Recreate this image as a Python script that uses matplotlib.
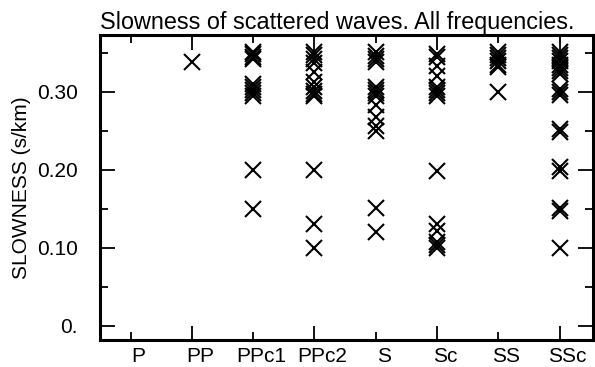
import numpy as np
import matplotlib.pyplot as plt
from matplotlib.ticker import FixedLocator
import matplotlib.transforms as mtransforms

plt.rcParams['font.family'] = ['Liberation Sans', 'DejaVu Sans']

phases = ['P', 'PP', 'PPc1', 'PPc2', 'S', 'Sc', 'SS', 'SSc']

# slowness values (s/km) read per phase
p_vals = []
pp_vals = [0.338]
ppc1_vals = [0.342, 0.345, 0.348, 0.351, 0.294, 0.298, 0.302, 0.306, 0.310, 0.20, 0.15]
ppc2_vals = [0.351, 0.347, 0.342, 0.337, 0.325, 0.312, 0.306, 0.301, 0.297, 0.294,
             0.20, 0.131, 0.10]
s_vals = [0.351, 0.346, 0.342, 0.338, 0.306, 0.302, 0.298, 0.294, 0.283, 0.268,
          0.256, 0.250, 0.151, 0.12]
sc_vals = [0.348, 0.344, 0.333, 0.320, 0.306, 0.302, 0.298, 0.295,
           0.198, 0.13, 0.122, 0.107, 0.103, 0.10]
ss_vals = [0.351, 0.347, 0.343, 0.339, 0.335, 0.332, 0.30]
ssc_vals = [0.351, 0.347, 0.343, 0.339, 0.335, 0.331, 0.327, 0.323, 0.304, 0.300,
            0.296, 0.252, 0.248, 0.203, 0.199, 0.151, 0.147, 0.10]

all_vals = [p_vals, pp_vals, ppc1_vals, ppc2_vals, s_vals, sc_vals, ss_vals, ssc_vals]

fig = plt.figure(figsize=(5.95, 3.67), dpi=100)
ax = fig.add_axes([0.168, 0.074, 0.829, 0.831])

for i, vals in enumerate(all_vals):
    x = np.full(len(vals), i + 1)
    ax.plot(x, vals, 'x', color='black', markersize=11, markeredgewidth=1.5)

ax.set_xlim(0.5, 8.55)
ax.set_ylim(-0.018, 0.373)

# y ticks
ax.yaxis.set_major_locator(FixedLocator([0, 0.1, 0.2, 0.3]))
ax.yaxis.set_minor_locator(FixedLocator([0.05, 0.15, 0.25, 0.35]))
ax.set_yticklabels(['0.', '0.10', '0.20', '0.30'])

# x ticks at every phase
ax.set_xticks(np.arange(1, 9), labels=phases)

ax.tick_params(axis='both', which='both', direction='in', top=True, right=True,
               width=1.3, labelsize=15)
ax.tick_params(axis='y', which='major', length=11, pad=16)
ax.tick_params(axis='y', which='minor', length=6)
ax.tick_params(axis='x', which='major', length=6, pad=5)

# longer ticks on every second phase
for t in ax.xaxis.get_major_ticks()[1::2]:
    t.tick1line.set_markersize(10)
    t.tick2line.set_markersize(11)

offset = mtransforms.ScaledTranslation(0.08, 0, fig.dpi_scale_trans)
for lab in ax.get_xticklabels():
    lab.set_transform(lab.get_transform() + offset)

for sp in ax.spines.values():
    sp.set_linewidth(2.2)

ax.set_ylabel('SLOWNESS (s/km)', fontsize=15, labelpad=4)
ax.set_title('Slowness of scattered waves. All frequencies.', fontsize=16.8,
             loc='left', pad=4)

fig.savefig('out.png', dpi=100)
